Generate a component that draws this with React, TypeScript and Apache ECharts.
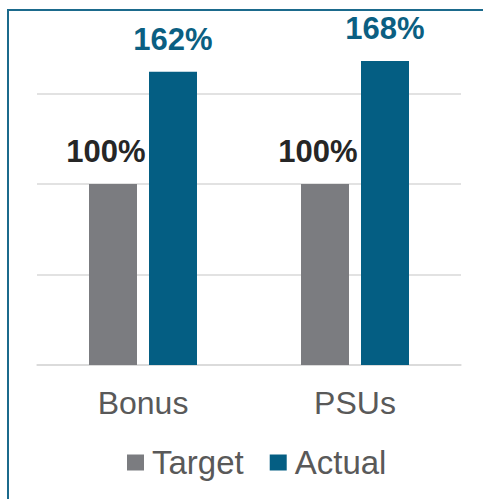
import React, { useEffect, useRef } from "react";
import * as echarts from "echarts";

const categories = ["Bonus", "PSUs"];
const targetValues = [100, 100];
const actualValues = [162, 168];
const seriesNames = ["Target", "Actual"];

export default function App() {
  const ref = useRef<HTMLDivElement>(null);
  useEffect(() => {
    const chart = echarts.init(ref.current!, null, { renderer: "svg" });
    chart.setOption({
      animation: false,
      textStyle: { fontFamily: "Liberation Sans, Arial, sans-serif" },
      graphic: [
        {
          type: "rect",
          shape: { x: 8, y: 10, width: 600, height: 600 },
          style: { fill: "none", stroke: "#1b6a8c", lineWidth: 2 },
          silent: true,
        },
      ],
      grid: { left: 37, right: 22, top: 3, bottom: 134 },
      legend: {
        data: seriesNames,
        bottom: 15,
        left: 122,
        itemWidth: 17,
        itemHeight: 16,
        itemGap: 26,
        icon: "rect",
        textStyle: { fontSize: 33, color: "#595959", padding: [0, 0, 0, 3] },
      },
      xAxis: {
        type: "category",
        data: categories,
        axisLine: { lineStyle: { color: "#d9d9d9", width: 1.5 } },
        axisTick: { show: false },
        axisLabel: { fontSize: 32, color: "#595959", margin: 22 },
      },
      yAxis: {
        type: "value",
        min: 0,
        max: 200,
        interval: 50,
        axisLabel: { show: false },
        axisLine: { show: false },
        axisTick: { show: false },
        splitLine: { showMaxLine: false, lineStyle: { color: "#d9d9d9", width: 1.5 } },
      },
      series: [
        {
          name: seriesNames[0],
          type: "bar",
          data: targetValues,
          barWidth: 48,
          barGap: "25%",
          itemStyle: { color: "#7b7c80" },
          label: {
            show: true,
            position: "top",
            distance: 17,
            offset: [-7, 0],
            formatter: "{c}%",
            fontSize: 31,
            fontWeight: "bold",
            color: "#262626",
          },
        },
        {
          name: seriesNames[1],
          type: "bar",
          data: actualValues,
          barWidth: 48,
          barGap: "25%",
          itemStyle: { color: "#045e83" },
          label: {
            show: true,
            position: "top",
            distance: 17,
            formatter: "{c}%",
            fontSize: 31,
            fontWeight: "bold",
            color: "#0b5f82",
          },
        },
      ],
    });
    return () => chart.dispose();
  }, []);
  return (
    <div style={{ position: "fixed", left: 0, top: 0, width: 483, height: 499, background: "#fff" }}>
      <div ref={ref} style={{ width: 483, height: 499 }} />
    </div>
  );
}
